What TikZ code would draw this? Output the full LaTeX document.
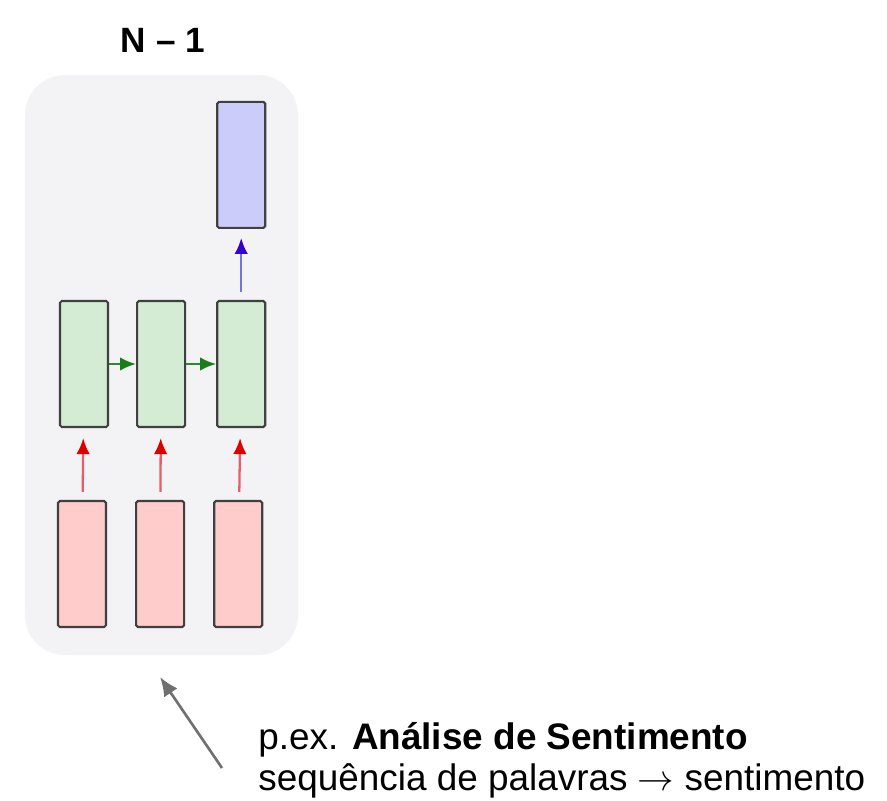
\documentclass[tikz,border=0pt]{standalone}
\usepackage{fontspec}
\setmainfont{Liberation Sans}
\usetikzlibrary{arrows.meta,positioning}
\definecolor{panelbg}{RGB}{243,242,245}
\definecolor{inred}{RGB}{255,204,204}
\definecolor{hidgreen}{RGB}{212,236,211}
\definecolor{outblue}{RGB}{204,204,250}
\definecolor{edge}{RGB}{64,64,64}
\definecolor{arred}{RGB}{222,0,0}
\definecolor{argreen}{RGB}{25,125,25}
\definecolor{arblue}{RGB}{55,0,205}
\definecolor{ptrgray}{RGB}{112,112,112}

\begin{document}
\begin{tikzpicture}[
    cell/.style={draw=edge, line width=1.2pt, rounded corners=1pt, fill=#1,
                 minimum width=0.96cm, minimum height=2.52cm, inner sep=0pt},
    arr/.style={-{Latex[length=0.32cm,width=0.27cm,color=#1]}, line width=1.3pt},
    txt/.style={font=\fontsize{21}{24}\selectfont, inner sep=0pt, anchor=base west}]

    \useasboundingbox (0,0) rectangle (17.74,-16.02);

    % panel + title
    \node[font=\fontsize{20}{24}\selectfont\bfseries] (title) at (3.26,-0.80) {N – 1};
    \node[fill=panelbg, rounded corners=0.8cm, minimum width=5.46cm, minimum height=11.6cm] (panel) at (3.23,-7.30) {};

    % inputs
    \node[cell=inred] (r1) at (1.64,-11.28) {};
    \node[cell=inred, right=0.56cm of r1] (r2) {};
    \node[cell=inred, right=0.56cm of r2] (r3) {};

    % hidden states
    \node[cell=hidgreen] (g1) at (1.68,-7.28) {};
    \node[cell=hidgreen, right=0.54cm of g1] (g2) {};
    \node[cell=hidgreen, right=0.6cm of g2] (g3) {};

    % output
    \node[cell=outblue, above=1.42cm of g3] (o3) {};

    \draw[arr=arred, draw={rgb,255:red,228;green,96;blue,104}, shorten <=0.16cm, shorten >=0.2cm] (r1) -- (g1);
    \draw[arr=arred, draw={rgb,255:red,228;green,96;blue,104}, shorten <=0.16cm, shorten >=0.2cm] (r2) -- (g2);
    \draw[arr=arred, draw={rgb,255:red,228;green,96;blue,104}, shorten <=0.16cm, shorten >=0.2cm] (r3) -- (g3);
    \draw[arr=argreen, draw={rgb,255:red,45;green,135;blue,45}] (g1) -- (g2);
    \draw[arr=argreen, draw={rgb,255:red,45;green,135;blue,45}] (g2) -- (g3);
    \draw[arr=arblue, draw={rgb,255:red,115;green,115;blue,225}, shorten <=0.16cm, shorten >=0.18cm] (g3) -- (o3);

    % example
    \node[txt] (ex1) at (5.16,-14.98) {p.ex. \textbf{Análise de Sentimento}};
    \node[txt] (ex2) at (5.16,-15.80) {sequência de palavras $\rightarrow$ sentimento};
    \coordinate (tail) at (4.44,-15.36);
    \coordinate (tip) at (3.20,-13.54);
    \draw[-{Latex[length=0.38cm,width=0.32cm]}, line width=1.5pt, ptrgray] (tail) -- (tip);
\end{tikzpicture}
\end{document}
